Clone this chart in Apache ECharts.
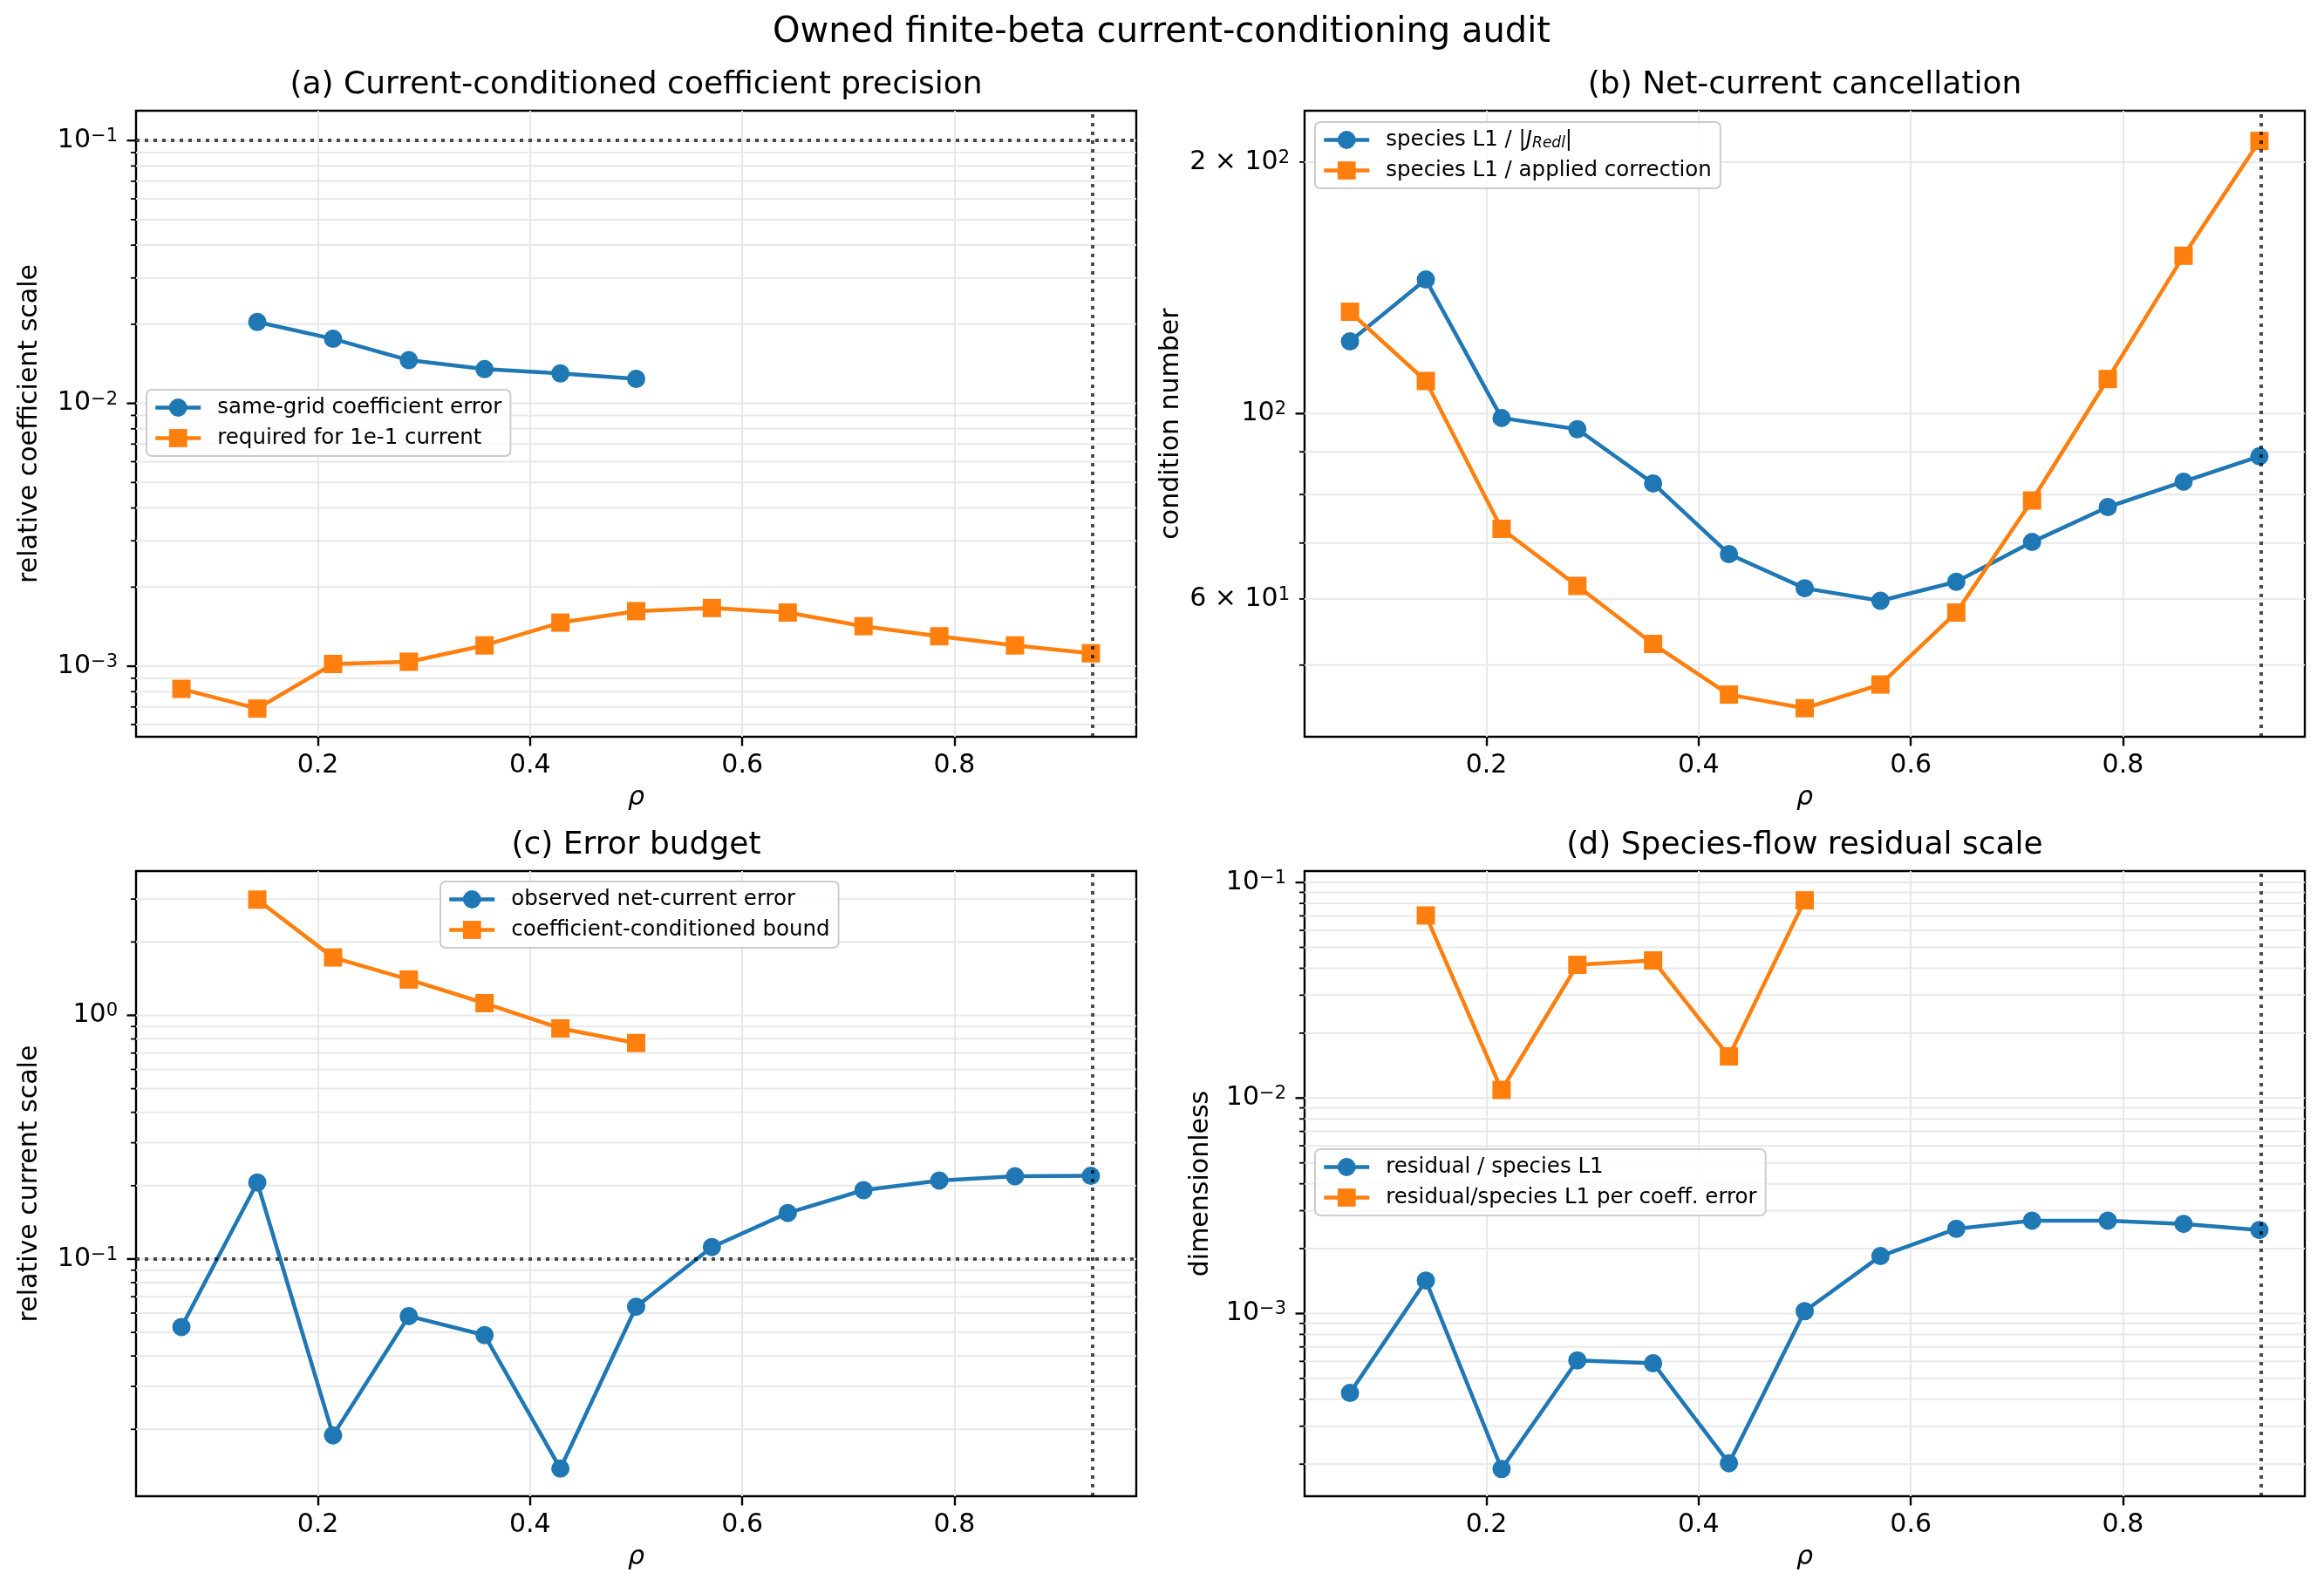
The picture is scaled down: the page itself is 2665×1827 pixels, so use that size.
<!DOCTYPE html>
<html>
<head>
<meta charset="utf-8">
<script src="https://cdn.jsdelivr.net/npm/echarts@6/dist/echarts.min.js"></script>
<style>
  html, body { margin: 0; padding: 0; background: #fff; }
  #chart { width: 2665px; height: 1827px; }
</style>
</head>
<body>
<div id="chart"></div>
<script>
const FONT = "DejaVu Sans";
const BLUE = "#1f77b4";
const ORANGE = "#ff7f0e";

// radial grid (rho = k/14)
const rho = [0.0714, 0.1429, 0.2143, 0.2857, 0.3571, 0.4286, 0.5, 0.5714, 0.6429, 0.7143, 0.7857, 0.8571, 0.9286];
const rhoInner = rho.slice(1, 7);
const rhoEdge = 0.9286;
const refCurrent = 0.1;

// (a) coefficient precision
const sameGridCoefErr = [0.0204, 0.0176, 0.0146, 0.0135, 0.0130, 0.0124];
const requiredCoef = [8.2e-4, 6.9e-4, 1.02e-3, 1.04e-3, 1.2e-3, 1.465e-3, 1.62e-3, 1.665e-3, 1.6e-3, 1.42e-3, 1.3e-3, 1.2e-3, 1.12e-3];

// (b) net-current cancellation
const condRedl = [122, 144.7, 98.8, 95.8, 82.5, 67.9, 61.8, 59.7, 62.9, 70.2, 77.3, 82.9, 88.9];
const condApplied = [132.4, 109.4, 72.8, 62.2, 53.0, 46.1, 44.4, 47.4, 57.8, 78.7, 110.0, 154.5, 212.0];

// (c) error budget
const observedErr = [0.0526, 0.206, 0.0189, 0.0583, 0.0487, 0.0138, 0.0637, 0.112, 0.1545, 0.1917, 0.21, 0.2185, 0.2194];
const conditionedBound = [2.985, 1.728, 1.403, 1.122, 0.884, 0.77];

// (d) species-flow residual
const residualL1 = [4.28e-4, 1.422e-3, 1.9e-4, 6.06e-4, 5.88e-4, 2.02e-4, 1.026e-3, 1.847e-3, 2.473e-3, 2.698e-3, 2.698e-3, 2.605e-3, 2.441e-3];
const residualPerCoef = [0.0703, 0.0109, 0.0415, 0.0435, 0.0156, 0.0826];

// axes
const xRange = [0.0286, 0.9714];
const xTicks = [0.2, 0.4, 0.6, 0.8];
const yRangeA = [5.39e-4, 0.1298];
const yRangeB = [41.04, 230.4];
const yRangeC = [0.01063, 3.91];
const yRangeD = [1.42e-4, 0.113];
const yLabelsA = [0.001, 0.01, 0.1];
const yLabelsB = [60, 100, 200];
const yLabelsC = [0.1, 1];
const yLabelsD = [0.001, 0.01, 0.1];

const NAME_J = "species L1 / |J_Redl|";

const pairs = (xs, ys) => ys.map((y, i) => [xs[i], y]);

const panels = [
  {
    title: "(a) Current-conditioned coefficient precision",
    yName: "relative coefficient scale", nameGap: 107,
    grid: { left: 156, top: 127, width: 1147, height: 718 },
    yRange: yRangeA, yLabels: yLabelsA, hLine: refCurrent,
    legend: { left: 168, top: 447 },
    lines: [
      ["same-grid coefficient error", pairs(rhoInner, sameGridCoefErr)],
      ["required for 1e-1 current", pairs(rho, requiredCoef)],
    ],
  },
  {
    title: "(b) Net-current cancellation",
    yName: "condition number", nameGap: 138,
    grid: { left: 1496, top: 127, width: 1147, height: 718 },
    yRange: yRangeB, yLabels: yLabelsB, hLine: null,
    legend: { left: 1508, top: 140 },
    lines: [
      [NAME_J, pairs(rho, condRedl)],
      ["species L1 / applied correction", pairs(rho, condApplied)],
    ],
  },
  {
    title: "(c) Error budget",
    yName: "relative current scale", nameGap: 107,
    grid: { left: 156, top: 999, width: 1147, height: 717 },
    yRange: yRangeC, yLabels: yLabelsC, hLine: refCurrent,
    legend: { left: 505, top: 1011 },
    lines: [
      ["observed net-current error", pairs(rho, observedErr)],
      ["coefficient-conditioned bound", pairs(rhoInner, conditionedBound)],
    ],
  },
  {
    title: "(d) Species-flow residual scale",
    yName: "dimensionless", nameGap: 104,
    grid: { left: 1496, top: 999, width: 1147, height: 717 },
    yRange: yRangeD, yLabels: yLabelsD, hLine: null,
    legend: { left: 1508, top: 1318 },
    lines: [
      ["residual / species L1", pairs(rho, residualL1)],
      ["residual/species L1 per coeff. error", pairs(rhoInner, residualPerCoef)],
    ],
  },
];

const richY = {
  b: { fontFamily: FONT, fontSize: 30, color: "#000" },
  s: { fontFamily: FONT, fontSize: 21, color: "#000", verticalAlign: "top" },
};

const near = (a, b) => Math.abs(a - b) / b < 1e-6;

function sciLabel(v) {
  const e = Math.floor(Math.log10(v) + 1e-9);
  const m = Math.round(v / Math.pow(10, e));
  const exp = (e < 0 ? "\u2212" : "") + Math.abs(e);
  return (m === 1 ? "{b|10}" : "{b|" + m + " \u00d7 10}") + "{s|" + exp + "}";
}

// minor/major log ticks + gridlines, placed through the axis scale
function tickSeries(i, p) {
  const [lo, hi] = p.yRange;
  const data = [];
  for (let e = Math.floor(Math.log10(lo)); e <= Math.ceil(Math.log10(hi)); e++) {
    for (let m = 1; m <= 9; m++) {
      const v = m * Math.pow(10, e);
      if (v >= lo && v <= hi) data.push([0.5, v, m === 1 ? 1 : 0]);
    }
  }
  return {
    type: "custom", xAxisIndex: i, yAxisIndex: i, data, silent: true, z: 1, animation: false,
    renderItem(params, api) {
      const cs = params.coordSys;
      const v = api.value(1);
      const y = api.coord([0.5, v])[1];
      const major = api.value(2) === 1;
      const children = [
        { type: "line", shape: { x1: cs.x, y1: y, x2: cs.x + cs.width, y2: y }, style: { stroke: "#e8e8e8", lineWidth: 2 } },
        { type: "line", shape: { x1: cs.x - (major ? 10.5 : 6), y1: y, x2: cs.x, y2: y }, style: { stroke: "#000", lineWidth: major ? 2.4 : 1.8 } },
      ];
      if (!major && p.yLabels.some((t) => near(v, t))) {
        children.push({
          type: "text", x: cs.x - 17, y,
          style: { text: sciLabel(v), rich: richY, align: "right", verticalAlign: "middle", fill: "#000", fontFamily: FONT, fontSize: 30 },
        });
      }
      return { type: "group", children };
    },
  };
}

const option = {
  backgroundColor: "#fff",
  animation: false,
  title: [
    {
      text: "Owned finite-beta current-conditioning audit",
      left: 1332, top: 38, textAlign: "center", textVerticalAlign: "middle", padding: 0,
      textStyle: { fontFamily: FONT, fontSize: 40, fontWeight: "normal", color: "#000" },
    },
    ...panels.map((p) => ({
      text: p.title,
      left: p.grid.left + p.grid.width / 2, top: p.grid.top - 29,
      textAlign: "center", textVerticalAlign: "middle", padding: 0,
      textStyle: { fontFamily: FONT, fontSize: 36, fontWeight: "normal", color: "#000" },
    })),
  ],
  grid: panels.map((p) => ({
    ...p.grid, show: true, borderColor: "#000", borderWidth: 2.4,
    backgroundColor: "transparent", containLabel: false, outerBoundsMode: "none",
  })),
  legend: panels.map((p) => ({
    data: p.lines.map((l) => l[0]),
    left: p.legend.left, top: p.legend.top,
    orient: "vertical", selectedMode: false,
    itemWidth: 52, itemHeight: 26, itemGap: 10,
    padding: [8, 10, 8, 8],
    backgroundColor: "rgba(255,255,255,0.8)", borderColor: "#cccccc", borderWidth: 2, borderRadius: 6,
    lineStyle: { width: 4.5 },
    formatter: (name) => (name === NAME_J ? "species L1 / |{i|J}{sub|Redl}|" : name),
    textStyle: {
      fontFamily: FONT, fontSize: 24.5, color: "#000", padding: [0, 0, 0, 14],
      rich: {
        i: { fontFamily: FONT, fontSize: 24.5, fontStyle: "italic", color: "#000" },
        sub: { fontFamily: FONT, fontSize: 17, fontStyle: "italic", color: "#000", verticalAlign: "bottom" },
      },
    },
  })),
  xAxis: panels.map((p, i) => ({
    type: "value", gridIndex: i, min: xRange[0], max: xRange[1],
    name: "\u03c1", nameLocation: "middle", nameGap: 55,
    nameTextStyle: { fontFamily: FONT, fontSize: 30, fontStyle: "italic", color: "#000" },
    axisLine: { show: false },
    axisTick: { show: true, customValues: xTicks, length: 10.5, lineStyle: { color: "#000", width: 2.4 } },
    axisLabel: { customValues: xTicks, margin: 18, fontFamily: FONT, fontSize: 30, color: "#000", formatter: (v) => v.toFixed(1) },
    splitLine: { show: true, lineStyle: { color: "#e8e8e8", width: 2 } },
  })),
  yAxis: panels.map((p, i) => ({
    type: "log", gridIndex: i, min: p.yRange[0], max: p.yRange[1],
    name: p.yName, nameLocation: "middle", nameRotate: 90, nameGap: p.nameGap,
    nameTextStyle: { fontFamily: FONT, fontSize: 30, color: "#000" },
    axisLine: { show: false },
    axisTick: { show: false },
    minorTick: { show: false },
    splitLine: { show: false },
    axisLabel: {
      interval: 0, margin: 21, fontFamily: FONT, fontSize: 30, color: "#000", rich: richY,
      formatter: (v) => (p.yLabels.some((t) => near(v, t)) ? sciLabel(v) : ""),
    },
  })),
  series: [
    ...panels.map((p, i) => tickSeries(i, p)),
    ...panels.flatMap((p, i) =>
      p.lines.map(([name, data], j) => {
        const color = j === 0 ? BLUE : ORANGE;
        const s = {
          type: "line", name, data, xAxisIndex: i, yAxisIndex: i,
          symbol: j === 0 ? "circle" : "rect", symbolSize: 21, showSymbol: true,
          lineStyle: { width: 4.5, color }, itemStyle: { color },
          emphasis: { disabled: true }, z: 3 + j, animation: false,
        };
        if (j === 1) {
          const refs = [{ xAxis: rhoEdge }];
          if (p.hLine !== null) refs.push({ yAxis: p.hLine });
          s.markLine = {
            silent: true, symbol: ["none", "none"], label: { show: false }, animation: false,
            lineStyle: { color: "rgba(0,0,0,0.7)", width: 4, type: [4, 6] },
            emphasis: { disabled: true },
            data: refs,
          };
        }
        return s;
      })
    ),
  ],
};

const chart = echarts.init(document.getElementById("chart"));
chart.setOption(option);
window.addEventListener("resize", () => chart.resize());
</script>
</body>
</html>
